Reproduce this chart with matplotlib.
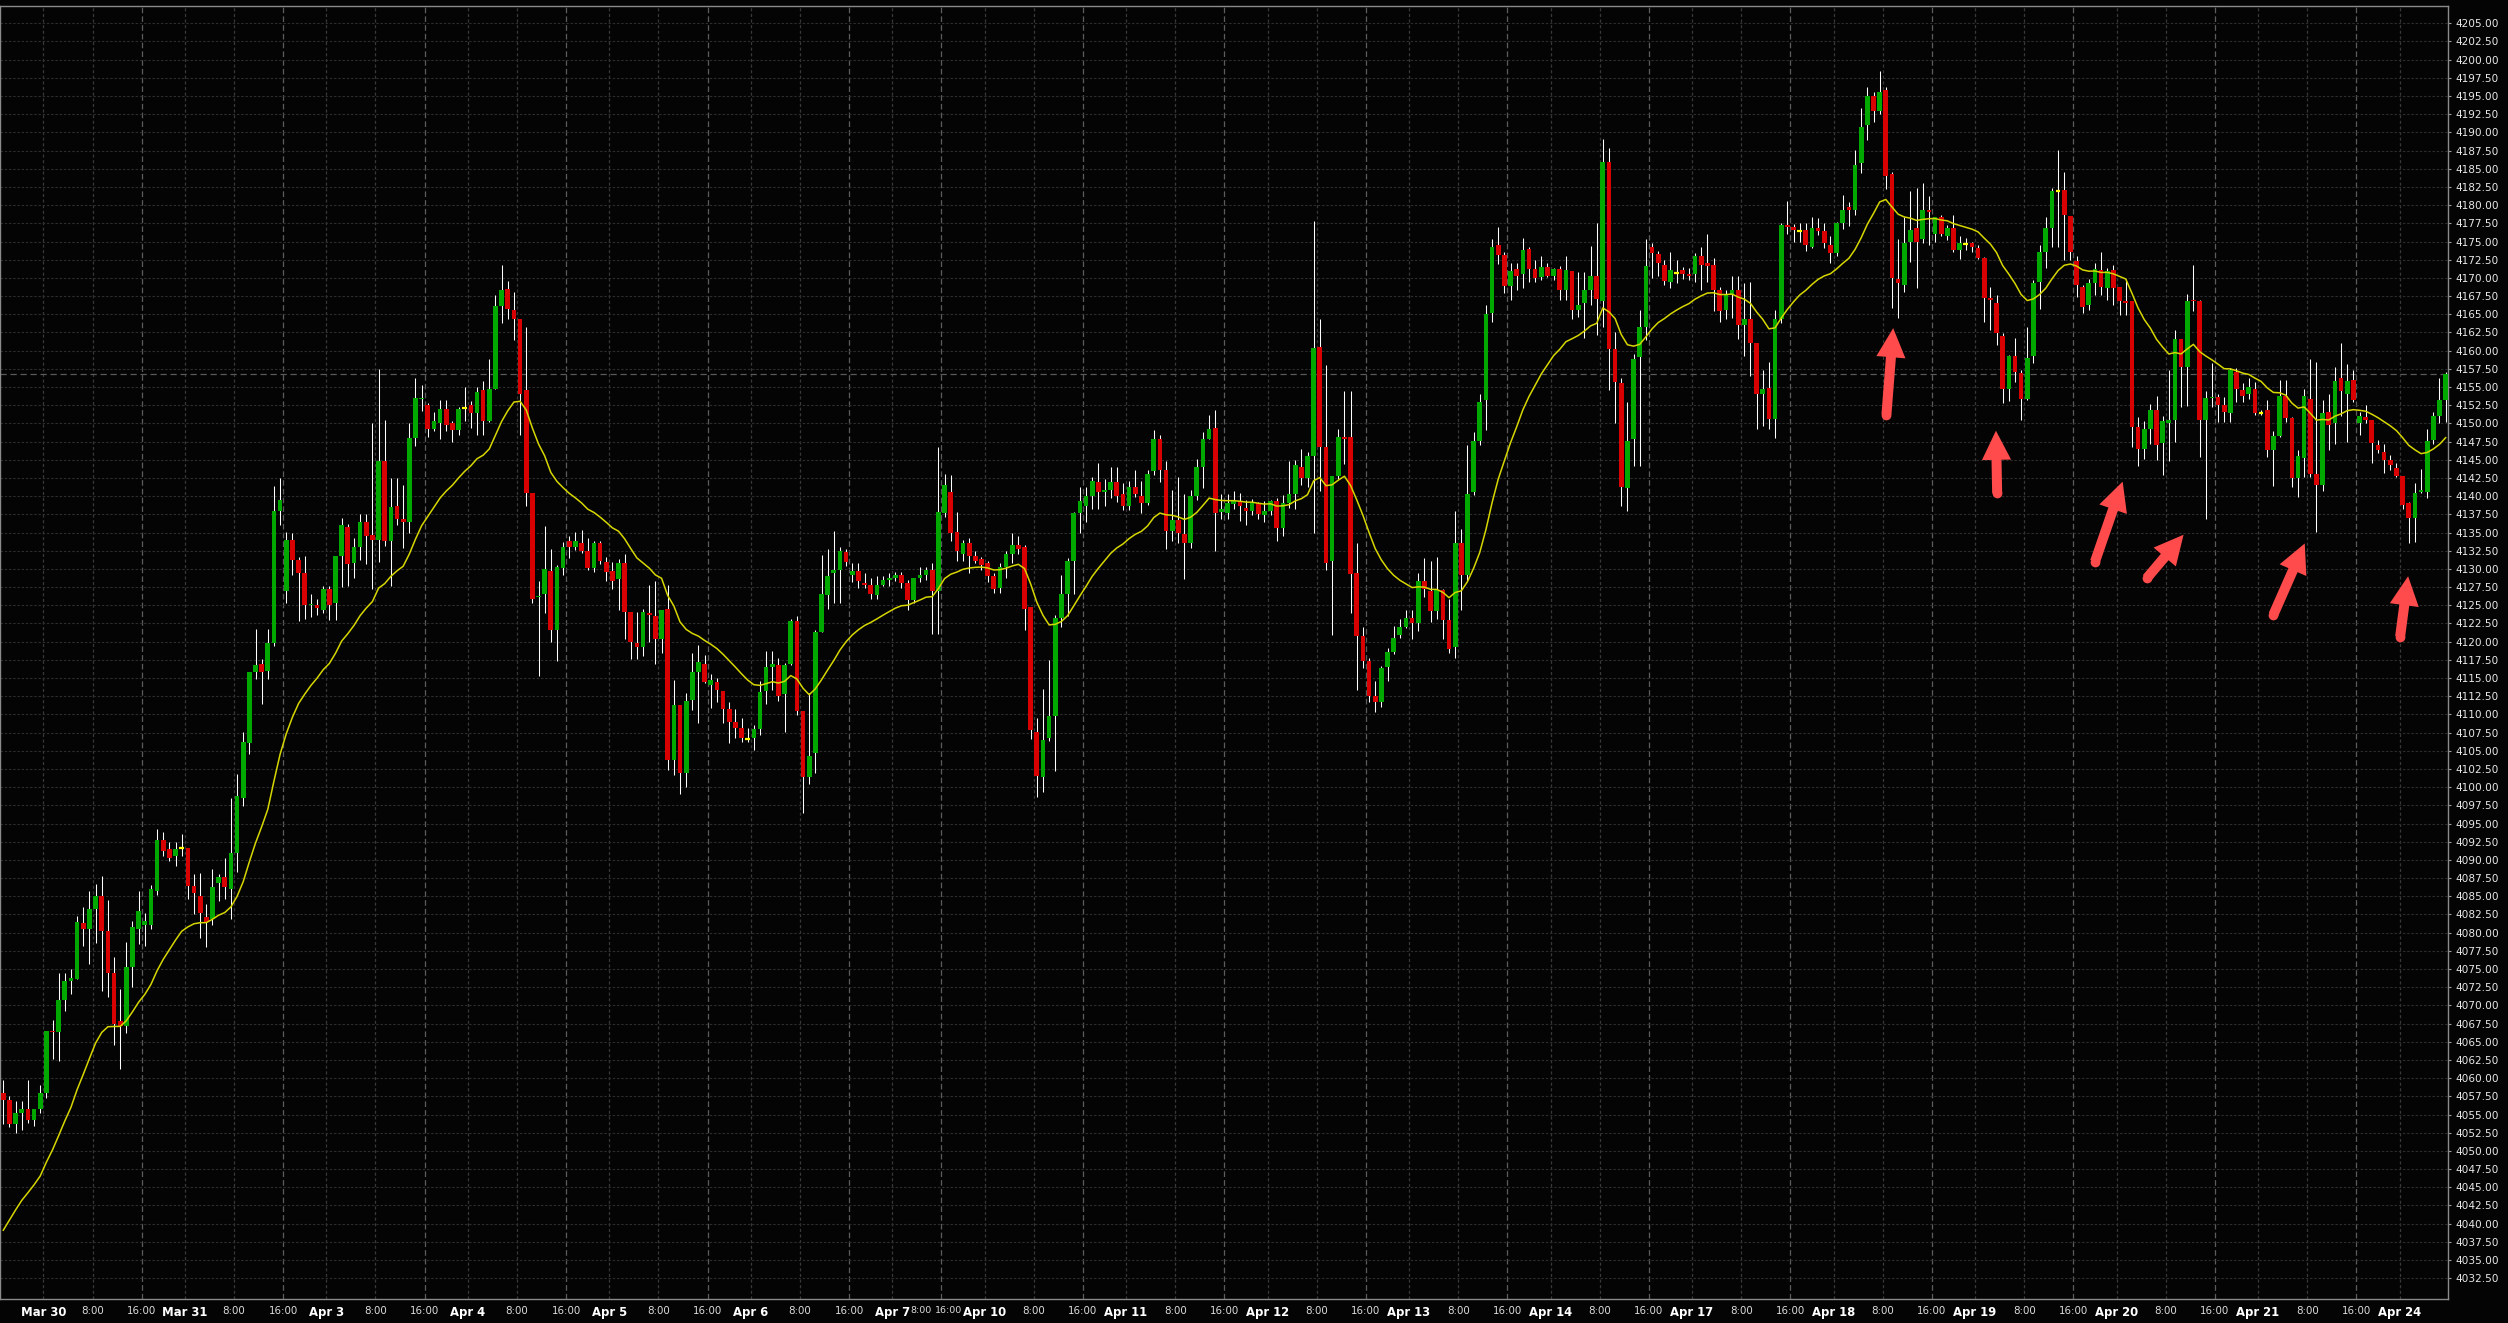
import numpy as np
import matplotlib
matplotlib.use("Agg")
import matplotlib.pyplot as plt
from matplotlib.ticker import FormatStrFormatter

# ---------------- data (hourly candles) ----------------
opens = [
 4058.0,4057.0,4053.7,4055.2,4055.7,4054.2,4055.7,4058.0,4066.5,4066.3,
 4070.7,4073.3,4073.6,4081.3,4080.5,4083.3,4085.0,4080.2,4074.5,4067.8,
 4067.2,4075.3,4080.5,4081.1,4081.1,4085.7,4092.7,4091.5,4090.6,4091.7,
 4091.7,4086.4,4085.1,4082.2,4081.9,4086.8,4087.6,4086.0,4090.9,4098.5,
 4106.1,4115.8,4117.0,4116.0,4119.8,4137.9,4127.0,4134.0,4131.2,4129.5,
 4125.0,4125.0,4124.4,4127.2,4125.3,4131.8,4135.7,4130.8,4133.0,4136.4,
 4134.6,4134.0,4144.9,4133.9,4138.7,4136.8,4136.4,4148.0,4153.3,4152.5,
 4149.3,4150.0,4152.0,4150.0,4149.1,4152.1,4152.5,4151.4,4154.6,4150.4,
 4154.7,4166.2,4168.5,4165.6,4164.4,4154.6,4140.5,4126.1,4126.5,4129.7,
 4121.6,4130.1,4133.9,4133.0,4133.5,4132.5,4130.1,4133.5,4131.0,4129.7,
 4128.6,4130.8,4124.1,4119.8,4119.3,4124.0,4123.5,4120.3,4124.5,4103.8,
 4111.3,4102.0,4112.0,4115.9,4117.0,4114.0,4114.5,4113.2,4110.8,4109.0,
 4108.2,4106.6,4106.8,4108.0,4113.2,4116.5,4116.8,4112.8,4116.9,4122.8,
 4110.5,4101.4,4104.7,4121.3,4126.4,4129.4,4129.8,4132.3,4129.1,4129.7,
 4128.0,4127.8,4126.4,4127.8,4128.5,4128.8,4129.1,4128.1,4125.7,4128.8,
 4129.1,4129.8,4127.0,4137.7,4140.6,4135.1,4132.0,4133.6,4131.8,4131.3,
 4130.8,4129.0,4127.4,4130.2,4132.0,4133.3,4133.0,4124.8,4107.6,4101.4,
 4106.7,4109.8,4123.2,4126.6,4131.1,4137.7,4138.6,4140.0,4142.0,4140.6,
 4140.8,4142.0,4140.3,4138.6,4141.2,4140.0,4139.1,4143.4,4147.9,4143.6,
 4135.2,4136.7,4134.8,4133.6,4140.0,4144.0,4147.9,4149.4,4137.8,4137.7,
 4138.9,4139.4,4138.4,4138.0,4139.0,4137.4,4138.0,4139.4,4135.6,4139.1,
 4140.3,4144.0,4142.5,4145.5,4160.5,4146.7,4131.1,4142.8,4148.2,4148.1,
 4129.5,4120.8,4117.4,4112.5,4111.7,4116.5,4118.6,4120.9,4122.0,4123.2,
 4122.6,4128.4,4127.0,4124.2,4127.1,4123.0,4119.3,4133.6,4129.1,4140.6,
 4147.6,4153.2,4165.2,4174.5,4173.2,4168.9,4171.2,4170.6,4174.0,4171.2,
 4170.1,4171.5,4170.2,4171.2,4168.3,4170.9,4165.6,4166.6,4168.4,4170.2,
 4166.8,4186.0,4160.2,4155.6,4141.1,4147.8,4159.1,4163.3,4174.2,4173.3,
 4171.8,4169.4,4170.7,4171.1,4170.5,4170.6,4173.0,4172.0,4171.8,4168.3,
 4165.6,4167.7,4168.4,4163.5,4164.3,4161.0,4154.1,4154.9,4150.6,4164.4,
 4177.3,4177.0,4176.5,4176.6,4174.3,4176.8,4176.5,4174.5,4173.4,4177.5,
 4179.7,4179.3,4185.8,4191.0,4195.0,4192.9,4195.8,4184.3,4169.8,4169.0,
 4175.0,4176.8,4175.3,4179.3,4176.0,4178.4,4175.8,4176.8,4173.8,4174.7,
 4174.8,4174.1,4172.7,4167.3,4166.5,4162.0,4154.7,4159.3,4157.0,4153.3,
 4159.3,4169.5,4173.6,4176.8,4182.0,4182.1,4178.5,4172.3,4168.7,4166.3,
 4169.3,4171.1,4168.6,4171.1,4168.7,4166.8,4166.8,4149.5,4146.5,4149.2,
 4151.8,4147.3,4150.1,4150.5,4161.6,4157.8,4167.0,4166.8,4150.5,4153.5,
 4153.7,4152.6,4151.4,4157.1,4154.6,4154.1,4154.7,4151.5,4151.8,4146.3,
 4148.3,4153.8,4150.7,4142.5,4145.3,4153.4,4143.1,4141.5,4151.6,4150.1,
 4156.3,4154.1,4156.0,4150.1,4150.9,4150.5,4147.0,4146.1,4145.0,4143.9,
 4142.8,4139.0,4137.0,4140.6,4140.6,4147.7,4151.0,4153.2]

highs = [
 4059.8,4057.5,4056.8,4056.9,4059.8,4055.7,4059.1,4066.5,4068.0,4074.5,
 4074.5,4075.0,4082.3,4083.5,4085.7,4086.7,4087.8,4084.5,4076.6,4072.2,
 4078.7,4081.6,4085.7,4082.7,4086.6,4094.2,4093.8,4092.5,4092.5,4093.6,
 4091.7,4088.1,4088.2,4084.0,4088.7,4088.1,4090.3,4098.5,4101.8,4107.6,
 4115.8,4121.7,4117.6,4121.8,4141.4,4142.5,4135.1,4135.0,4131.6,4131.8,
 4126.6,4125.9,4127.6,4127.6,4131.8,4137.0,4136.2,4134.3,4137.6,4137.6,
 4150.0,4157.5,4150.5,4142.5,4142.5,4141.6,4150.0,4156.2,4155.3,4152.8,
 4151.6,4153.2,4153.2,4150.3,4152.2,4155.0,4153.1,4155.0,4155.9,4158.8,
 4167.7,4171.8,4169.6,4168.1,4164.4,4163.3,4140.5,4128.4,4135.9,4132.7,
 4130.5,4133.7,4134.5,4135.1,4135.4,4134.2,4133.8,4133.8,4131.6,4130.9,
 4131.4,4132.0,4124.1,4124.1,4124.5,4127.8,4128.3,4124.3,4127.8,4114.7,
 4111.3,4112.9,4118.4,4119.5,4118.2,4115.6,4115.0,4113.2,4111.7,4110.8,
 4109.5,4108.1,4108.5,4114.6,4118.7,4118.7,4117.7,4117.1,4123.1,4123.5,
 4110.5,4113.0,4121.6,4131.9,4132.8,4135.2,4133.0,4132.7,4130.8,4130.8,
 4129.4,4128.8,4129.0,4129.0,4129.5,4129.6,4129.6,4128.5,4128.8,4130.2,
 4130.3,4130.8,4146.7,4143.0,4142.9,4137.8,4134.0,4134.2,4132.5,4131.6,
 4131.1,4129.5,4130.8,4132.4,4135.0,4134.5,4133.3,4124.8,4109.5,4113.5,
 4117.5,4123.6,4129.2,4131.5,4137.8,4141.2,4141.2,4142.7,4144.5,4142.4,
 4144.0,4144.0,4141.8,4142.1,4143.6,4142.1,4143.6,4149.1,4148.4,4144.8,
 4140.9,4142.7,4140.3,4140.8,4145.1,4148.8,4151.2,4151.9,4140.3,4140.3,
 4140.7,4140.5,4139.5,4139.6,4139.2,4139.3,4139.5,4139.8,4140.1,4144.9,
 4145.0,4146.5,4146.1,4177.8,4164.3,4158.0,4142.8,4149.3,4154.5,4154.5,
 4133.6,4122.0,4117.7,4114.6,4116.7,4119.1,4122.2,4123.1,4124.4,4124.4,
 4129.5,4131.5,4131.1,4131.7,4127.3,4125.8,4137.9,4135.5,4147.0,4148.8,
 4154.1,4166.3,4175.4,4177.0,4173.5,4172.0,4172.0,4175.5,4174.2,4172.4,
 4173.0,4172.0,4171.3,4171.6,4173.0,4170.9,4170.8,4170.8,4174.4,4177.6,
 4189.1,4187.8,4162.5,4156.3,4153.0,4159.6,4165.6,4175.4,4174.8,4173.7,
 4172.5,4173.6,4172.4,4171.5,4171.3,4173.4,4174.2,4176.0,4172.7,4168.7,
 4168.3,4170.2,4170.3,4169.3,4169.4,4161.0,4157.4,4158.5,4165.6,4177.6,
 4180.6,4177.4,4177.6,4177.5,4178.4,4178.2,4177.5,4175.7,4177.7,4181.4,
 4180.5,4187.6,4193.3,4196.2,4195.6,4198.4,4196.2,4184.6,4175.3,4178.4,
 4181.9,4182.3,4183.0,4181.3,4178.4,4178.6,4177.3,4178.7,4175.7,4175.5,
 4175.0,4174.5,4172.9,4168.8,4167.7,4162.4,4159.4,4161.7,4157.3,4163.3,
 4169.7,4174.5,4178.4,4182.4,4187.6,4184.6,4178.5,4173.0,4169.0,4169.9,
 4172.1,4173.6,4171.3,4171.8,4168.8,4169.9,4166.8,4150.9,4150.3,4152.7,
 4153.8,4151.0,4157.3,4162.9,4161.6,4167.8,4171.8,4167.0,4154.4,4158.3,
 4154.0,4153.7,4157.6,4157.6,4155.5,4156.3,4155.7,4151.8,4153.2,4148.9,
 4156.0,4156.0,4150.9,4146.3,4154.8,4158.9,4158.5,4153.2,4154.1,4157.8,
 4161.1,4158.2,4157.3,4151.6,4152.5,4150.5,4147.7,4147.2,4145.7,4144.5,
 4142.8,4139.2,4141.8,4143.8,4149.3,4151.6,4156.2,4157.1]

lows = [
 4053.7,4053.3,4052.4,4052.9,4053.9,4053.4,4055.2,4057.3,4062.7,4062.4,
 4069.2,4071.6,4073.6,4078.2,4075.7,4078.6,4072.0,4071.2,4064.5,4061.3,
 4066.2,4072.5,4078.4,4078.2,4080.5,4085.2,4090.5,4089.8,4089.1,4090.6,
 4084.6,4082.5,4079.2,4078.0,4081.1,4084.3,4084.6,4081.9,4088.4,4097.4,
 4104.5,4114.9,4111.4,4114.9,4119.4,4136.0,4125.3,4129.1,4122.8,4123.1,
 4123.4,4123.6,4124.0,4123.0,4123.0,4127.5,4127.6,4128.8,4131.2,4130.7,
 4127.2,4131.0,4133.2,4127.6,4136.0,4132.9,4135.0,4146.9,4151.7,4148.2,
 4148.9,4147.9,4148.9,4147.5,4148.4,4150.3,4149.4,4148.4,4148.4,4150.2,
 4154.7,4163.8,4164.3,4161.5,4148.4,4138.7,4125.3,4115.3,4124.0,4119.9,
 4117.4,4129.1,4131.5,4132.6,4132.2,4129.8,4129.6,4130.7,4128.4,4127.3,
 4124.3,4120.4,4117.6,4117.6,4118.0,4120.0,4117.0,4118.4,4102.4,4101.7,
 4099.0,4100.0,4110.6,4108.8,4114.3,4110.9,4111.7,4108.8,4106.1,4106.7,
 4106.2,4106.2,4105.1,4107.2,4111.5,4113.3,4111.8,4107.6,4116.8,4109.9,
 4096.4,4100.5,4101.9,4121.3,4124.5,4125.3,4125.3,4130.4,4128.2,4127.4,
 4127.4,4125.8,4125.8,4127.6,4127.7,4128.3,4127.4,4124.4,4125.3,4128.2,
 4128.5,4121.1,4121.1,4137.1,4133.9,4131.1,4131.1,4129.5,4130.8,4129.8,
 4128.2,4126.7,4126.7,4128.8,4130.8,4132.1,4121.6,4106.6,4098.7,4099.4,
 4106.4,4102.2,4122.0,4123.5,4126.6,4135.0,4136.4,4138.2,4138.2,4138.7,
 4139.8,4139.2,4138.1,4138.1,4139.9,4137.7,4138.8,4142.9,4142.0,4132.7,
 4133.9,4133.5,4128.6,4132.9,4139.5,4141.1,4147.8,4132.4,4136.9,4136.9,
 4138.2,4136.6,4136.0,4137.4,4136.9,4136.5,4137.4,4133.8,4134.5,4138.4,
 4138.3,4141.6,4141.2,4134.9,4140.7,4129.9,4120.9,4142.4,4144.4,4124.0,
 4113.4,4116.4,4111.7,4110.3,4111.0,4114.6,4118.3,4120.5,4121.9,4120.4,
 4121.5,4126.2,4122.7,4123.1,4120.4,4118.4,4117.7,4124.4,4128.4,4140.2,
 4147.0,4149.1,4164.0,4171.9,4167.9,4167.0,4168.3,4168.6,4169.4,4169.4,
 4169.7,4170.1,4169.7,4167.0,4167.0,4164.3,4164.6,4161.7,4166.3,4162.1,
 4163.2,4154.6,4150.1,4138.7,4137.9,4144.2,4144.2,4161.5,4170.0,4170.2,
 4169.0,4168.6,4169.3,4169.8,4169.7,4169.4,4168.3,4169.5,4165.4,4164.0,
 4164.3,4164.5,4161.6,4159.2,4156.5,4149.2,4149.6,4149.3,4148.0,4163.8,
 4176.1,4175.0,4175.0,4173.7,4174.1,4175.9,4174.1,4172.0,4173.0,4176.7,
 4177.1,4178.7,4184.4,4189.0,4191.5,4192.6,4182.2,4165.8,4164.5,4168.0,
 4172.2,4168.6,4174.8,4174.5,4174.9,4175.7,4175.2,4173.5,4172.6,4173.9,
 4173.6,4172.6,4164.0,4162.8,4160.8,4152.8,4153.1,4155.7,4150.5,4153.2,
 4158.3,4165.7,4171.3,4174.3,4174.3,4172.5,4172.5,4167.4,4165.2,4165.6,
 4167.7,4167.7,4167.0,4166.3,4164.9,4164.9,4146.8,4144.1,4145.1,4147.2,
 4145.0,4142.9,4144.9,4147.5,4152.2,4152.4,4165.5,4145.4,4136.9,4152.3,
 4150.2,4150.2,4150.2,4153.0,4153.0,4153.4,4151.1,4151.1,4145.4,4141.4,
 4148.2,4150.2,4141.2,4139.9,4142.6,4142.7,4135.1,4140.7,4146.3,4147.2,
 4151.0,4147.5,4153.0,4148.4,4150.1,4144.5,4145.9,4143.2,4143.6,4142.6,
 4138.2,4133.5,4133.7,4140.4,4139.7,4147.2,4150.0,4150.2]

closes = [
 4057.0,4053.7,4055.2,4055.7,4054.2,4055.7,4058.0,4066.5,4066.3,4070.7,
 4073.3,4073.8,4081.5,4080.5,4083.3,4085.0,4080.2,4074.5,4067.5,4067.2,
 4075.3,4080.8,4083.0,4081.6,4086.0,4092.7,4091.2,4090.3,4091.5,4091.7,
 4086.4,4085.4,4082.7,4081.5,4086.3,4087.6,4086.3,4090.9,4098.8,4106.2,
 4115.8,4116.8,4115.8,4119.8,4137.9,4139.5,4134.0,4131.2,4129.4,4125.0,
 4125.2,4124.6,4127.2,4125.1,4131.8,4136.0,4130.7,4133.0,4136.4,4134.5,
 4134.0,4144.9,4133.9,4138.5,4136.9,4136.4,4148.0,4153.5,4153.5,4149.3,
 4150.3,4152.0,4149.8,4149.1,4152.0,4152.1,4151.4,4154.3,4150.3,4154.7,
 4166.2,4168.3,4165.7,4164.3,4154.1,4140.5,4125.8,4126.3,4130.0,4121.6,
 4130.3,4133.0,4133.0,4133.8,4132.5,4130.1,4133.5,4131.1,4129.6,4128.4,
 4130.8,4124.1,4120.0,4119.3,4124.1,4123.6,4120.3,4124.3,4103.8,4111.3,
 4101.9,4111.9,4115.9,4117.2,4114.5,4114.7,4113.4,4110.8,4109.0,4108.2,
 4106.8,4106.6,4108.0,4113.1,4116.5,4117.0,4112.6,4116.8,4122.8,4110.5,
 4101.4,4104.3,4121.3,4126.5,4129.0,4129.8,4132.5,4130.9,4129.7,4128.4,
 4127.8,4126.6,4127.8,4128.5,4128.8,4129.1,4128.1,4125.7,4128.8,4129.1,
 4129.8,4127.0,4137.8,4141.6,4135.0,4132.4,4133.6,4131.8,4131.1,4130.6,
 4129.0,4127.2,4130.3,4132.0,4133.3,4132.8,4124.5,4107.8,4101.6,4106.5,
 4109.8,4123.2,4126.5,4131.1,4137.7,4139.4,4140.0,4142.1,4140.6,4140.8,
 4141.9,4140.0,4138.6,4141.2,4140.3,4139.1,4143.0,4147.9,4143.6,4135.2,
 4136.7,4135.0,4133.6,4140.0,4144.0,4147.9,4149.2,4137.7,4138.2,4139.1,
 4139.4,4138.6,4138.0,4139.1,4137.6,4137.9,4139.3,4135.6,4139.1,4140.3,
 4144.3,4142.5,4145.5,4160.3,4146.7,4130.8,4142.8,4148.2,4147.9,4129.3,
 4120.8,4117.3,4112.6,4111.7,4116.4,4118.6,4120.5,4122.0,4123.2,4122.6,
 4128.4,4127.3,4124.2,4127.1,4123.0,4119.0,4133.6,4129.1,4140.3,4147.6,
 4153.0,4165.1,4174.3,4173.1,4168.9,4170.9,4170.3,4173.9,4171.2,4170.0,
 4171.5,4170.2,4171.2,4168.4,4171.1,4165.6,4166.3,4168.4,4170.2,4167.1,
 4186.0,4160.2,4155.7,4141.2,4147.6,4158.8,4163.2,4171.7,4173.4,4172.1,
 4169.6,4171.1,4170.7,4170.6,4170.3,4173.0,4171.8,4171.6,4168.3,4165.4,
 4167.7,4168.4,4163.5,4164.3,4161.0,4154.1,4154.7,4150.6,4164.4,4177.3,
 4177.0,4176.6,4176.5,4174.5,4176.8,4176.4,4174.8,4173.4,4177.5,4179.3,
 4179.3,4185.5,4190.8,4195.0,4192.9,4195.5,4184.0,4170.0,4169.3,4174.8,
 4176.6,4175.0,4179.3,4179.1,4178.4,4176.0,4176.8,4173.8,4174.8,4174.7,
 4174.2,4172.7,4167.3,4166.9,4162.4,4154.7,4159.3,4157.1,4153.3,4159.0,
 4169.3,4173.5,4176.8,4181.9,4182.0,4178.6,4173.6,4169.0,4166.0,4169.3,
 4171.2,4168.8,4170.9,4168.6,4166.8,4166.6,4149.5,4146.5,4149.2,4151.8,
 4147.0,4150.3,4150.5,4161.6,4157.8,4166.8,4166.8,4150.5,4153.5,4153.7,
 4152.5,4151.6,4157.3,4154.8,4153.8,4155.0,4151.4,4151.5,4146.4,4148.3,
 4153.8,4150.8,4142.5,4145.5,4153.8,4143.1,4141.5,4151.4,4149.8,4155.9,
 4154.4,4155.9,4153.2,4151.0,4150.5,4147.3,4146.3,4145.0,4144.3,4142.8,
 4138.8,4137.0,4140.5,4140.8,4147.6,4151.0,4153.2,4156.75]

# moving average: 20-period EMA of closes, started from the value read at the first candle
ma_seed = 4039.1
ma_period = 20

session_names = ["Mar 30","Mar 31","Apr 3","Apr 4","Apr 5","Apr 6","Apr 7","Apr 10",
                 "Apr 11","Apr 12","Apr 13","Apr 14","Apr 17","Apr 18","Apr 19",
                 "Apr 20","Apr 21","Apr 24"]
session_lengths = [23,23,23,23,23,23,15,23,23,23,23,23,23,23,23,23,23,15]

price_ticks = np.arange(4032.5, 4205.01, 2.5)

# annotation arrows (tail -> tip) in (candle index, price)
arrow_tails = [(306.1,4151.2),(324.1,4140.4),(340.0,4131.0),(348.4,4128.7),(369.0,4123.7),(389.6,4120.7)]
arrow_tips  = [(307.2,4163.1),(323.9,4149.0),(344.5,4142.0),(354.4,4134.7),(374.1,4133.5),(390.9,4129.0)]

# ---------------- figure ----------------
BG = "#040404"
W, H = 2508, 1323
fig = plt.figure(figsize=(W/100, H/100), dpi=100, facecolor=BG)
ax = fig.add_axes([0, 24/H, 2448/W, 1293/H], facecolor=BG)

XMIN = (0 - 3.3) / 6.152
XMAX = (2448 - 3.3) / 6.152

o = np.array(opens); c = np.array(closes)
hi = np.maximum(np.array(highs), np.maximum(o, c))
lo = np.minimum(np.array(lows), np.minimum(o, c))
n = len(c)
x = np.arange(n)

# grid
ax.set_yticks(price_ticks)
ax.yaxis.grid(True, color="#2c2c2c", linestyle=(0, (2.2, 1.6)), linewidth=0.8, zorder=0)
ax.xaxis.grid(False)

# x labels: (position, text, kind) ; kind: 'date', 'time', 'time_small'
labels = []
b = 0
prev_short = False
for name, ln in zip(session_names, session_lengths):
    if b > 0:
        ax.axvline(b - 0.5, color="#5c5c5c", linestyle=(0, (4.5, 2.5)), linewidth=0.9, zorder=0.5)
        if prev_short:
            labels.append((b - 0.5 + 1.1, "16:00", "time_small"))
        else:
            labels.append((b - 0.5, "16:00", "time"))
    labels.append((b + 6.5, name, "date"))
    ax.axvline(b + 6.5, color="#383838", linestyle=(0, (2.5, 2)), linewidth=0.9, zorder=0.5)
    p8 = b + 14.5
    short = p8 >= b + ln - 0.5
    if p8 < XMAX:
        if short:
            labels.append((p8 - 3.25, "8:00", "time_small"))
        else:
            labels.append((p8, "8:00", "time"))
            ax.axvline(p8, color="#383838", linestyle=(0, (2.5, 2)), linewidth=0.9, zorder=0.5)
    prev_short = short
    b += ln

# candles
width = 0.76
up = c > o
dn = c < o
eq = ~(up | dn)
ax.vlines(x, lo, hi, colors="#ffffff", linewidth=0.75, zorder=2)
ax.bar(x[up], (c - o)[up], bottom=o[up], width=width, color="#00a800", linewidth=0, zorder=3)
ax.bar(x[dn], (o - c)[dn], bottom=c[dn], width=width, color="#d80000", linewidth=0, zorder=3)
ax.hlines(c[eq], x[eq] - width/2, x[eq] + width/2, colors="#ffff00", linewidth=1.6, zorder=3)

# moving average (EMA 20 of closes)
alpha = 2.0 / (ma_period + 1)
ma = [ma_seed]
for i in range(1, n):
    ma.append(ma[-1] + alpha * (c[i] - ma[-1]))
ax.plot(x, ma, color="#d6d600", linewidth=1.1, zorder=4)

# last price line
ax.axhline(c[-1], color="#5a5a5a", linestyle=(0, (5, 3)), linewidth=0.9, zorder=1)

# arrows
for (tx, ty), (hx, hy) in zip(arrow_tails, arrow_tips):
    ax.annotate("", xy=(hx, hy), xytext=(tx, ty),
                arrowprops=dict(arrowstyle="simple,head_length=1.05,head_width=1.05,tail_width=0.36",
                                mutation_scale=20, color="#ff4b4b", shrinkA=0, shrinkB=0, linewidth=0),
                zorder=6)
    ax.plot([tx], [ty], marker="o", markersize=7.0, color="#ff4b4b", markeredgewidth=0, zorder=6)

# axes
ax.set_xlim(XMIN, XMAX)
ax.set_ylim(4205 - (1299 - 23.3) / 7.275, 4205 + (23.3 - 6) / 7.275)

ax.yaxis.tick_right()
ax.yaxis.set_major_formatter(FormatStrFormatter("%.2f"))
ax.tick_params(axis="y", colors="#9a9a9a", length=2.5, width=0.8, pad=2.5,
               labelcolor="#e8e8e8", labelsize=7.6)
ax.set_xticks([p for p, _, _ in labels])
ax.set_xticklabels([t for _, t, _ in labels])
ax.tick_params(axis="x", length=0, pad=5, labelcolor="#ffffff")
for lab, (_, _, kind) in zip(ax.get_xticklabels(), labels):
    if kind == "date":
        lab.set_fontweight("bold"); lab.set_fontsize(8.4); lab.set_color("#ffffff")
    elif kind == "time":
        lab.set_fontsize(7.4); lab.set_color("#dcdcdc")
    else:
        lab.set_fontsize(6.8); lab.set_color("#dcdcdc")

for s in ax.spines.values():
    s.set_color("#8a8a8a"); s.set_linewidth(1.0)

fig.savefig("out.png", dpi=100, facecolor=BG)
